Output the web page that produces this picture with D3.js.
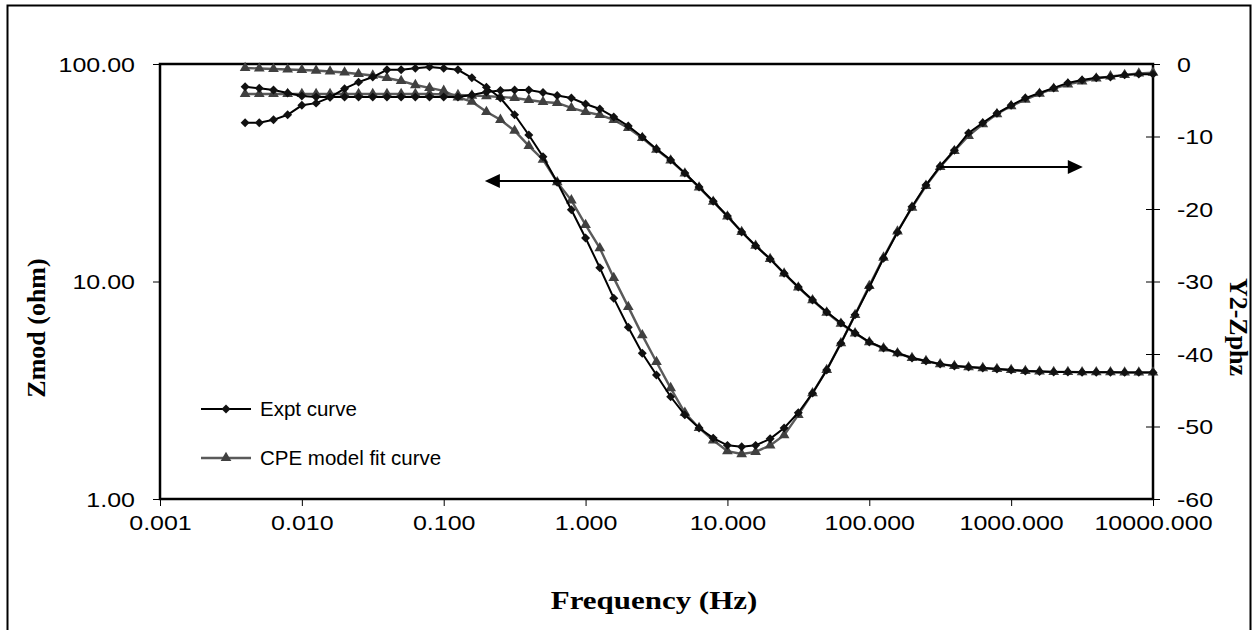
<!DOCTYPE html>
<html>
<head>
<meta charset="UTF-8">
<title>Zmod / Zphz vs Frequency</title>
<script src="https://d3js.org/d3.v7.min.js"></script>
<style>
  body { margin: 0; background: #fff; }
  .tick text { font-family: "Liberation Sans", Arial, sans-serif; font-size: 21px; fill: #000; }
  .title { font-family: "Liberation Serif", "Times New Roman", serif; font-weight: bold; font-size: 26px; fill: #000; }
  .legend text { font-family: "Liberation Sans", Arial, sans-serif; font-size: 20.5px; fill: #000; }
</style>
</head>
<body>
<script>
// frequency points (Hz), 10 per decade
const freq = [0.00398, 0.00501, 0.00631, 0.00794, 0.01, 0.0126, 0.0158, 0.02, 0.0251, 0.0316,
  0.0398, 0.0501, 0.0631, 0.0794, 0.1, 0.126, 0.158, 0.2, 0.251, 0.316,
  0.398, 0.501, 0.631, 0.794, 1, 1.26, 1.58, 2, 2.51, 3.16,
  3.98, 5.01, 6.31, 7.94, 10, 12.6, 15.8, 20, 25.1, 31.6,
  39.8, 50.1, 63.1, 79.4, 100, 126, 158, 200, 251, 316,
  398, 501, 631, 794, 1000, 1259, 1585, 1995, 2512, 3162,
  3981, 5012, 6310, 7943, 10000];

// |Z| (ohm)
const zmodExpt = [78.6, 77.3, 75.9, 73.5, 71.2, 70.5, 70.5, 70.5, 70.5, 70.5,
  70.5, 70.5, 70.5, 70.5, 70.5, 70.5, 72.0, 74.3, 75.5, 75.9,
  75.9, 74.0, 71.6, 69.8, 65.5, 62.1, 57.1, 51.9, 46.2, 40.7,
  36.2, 31.5, 27.2, 23.4, 20.0, 16.9, 14.6, 12.7, 10.9, 9.43,
  8.22, 7.24, 6.44, 5.80, 5.27, 4.94, 4.69, 4.45, 4.31, 4.17,
  4.09, 4.04, 4.00, 3.96, 3.92, 3.88, 3.86, 3.84, 3.84, 3.83,
  3.83, 3.83, 3.82, 3.82, 3.82];
const zmodFit = [72.8, 72.8, 72.8, 72.8, 72.8, 72.8, 72.8, 72.8, 72.8, 72.8,
  72.8, 72.8, 72.8, 72.8, 72.4, 72.0, 71.6, 71.2, 70.5, 69.8,
  68.3, 66.9, 66.2, 62.8, 60.2, 58.3, 55.3, 50.8, 45.7, 40.4,
  36.0, 31.4, 27.1, 23.3, 19.9, 16.9, 14.6, 12.7, 10.9, 9.4,
  8.2, 7.2, 6.4, 5.78, 5.26, 4.93, 4.68, 4.45, 4.31, 4.17,
  4.09, 4.04, 4.00, 3.96, 3.92, 3.88, 3.86, 3.84, 3.84, 3.83,
  3.83, 3.83, 3.82, 3.82, 3.82];

// phase (deg)
const phzExpt = [-8.1, -8.1, -7.7, -7.0, -5.7, -5.4, -4.6, -3.4, -2.5, -1.8,
  -0.8, -0.8, -0.6, -0.4, -0.6, -0.8, -1.9, -3.2, -4.7, -7.0,
  -9.8, -12.8, -16.3, -20.1, -24.0, -28.1, -32.3, -36.3, -39.9, -42.9,
  -45.9, -48.4, -50.2, -51.6, -52.6, -52.8, -52.6, -51.7, -50.2, -48.1,
  -45.4, -42.2, -38.5, -34.6, -30.8, -26.8, -23.2, -19.7, -16.7, -14.1,
  -11.9, -9.5, -8.1, -6.8, -5.7, -4.7, -4.0, -3.3, -2.6, -2.2,
  -1.9, -1.8, -1.5, -1.4, -1.4];
const phzFit = [-0.55, -0.62, -0.69, -0.76, -0.83, -0.9, -1.03, -1.17, -1.38, -1.59,
  -1.93, -2.34, -2.9, -3.3, -3.7, -4.6, -5.2, -6.6, -7.7, -9.2,
  -11.3, -13.2, -16.3, -18.8, -22.2, -25.4, -29.5, -33.5, -37.4, -41.1,
  -44.7, -48.1, -50.2, -51.9, -53.4, -53.8, -53.5, -52.6, -51.2, -48.4,
  -45.4, -42.2, -38.5, -34.6, -30.6, -26.7, -23.1, -19.8, -16.8, -14.2,
  -12.0, -9.9, -8.3, -6.9, -5.8, -4.9, -4.1, -3.4, -2.8, -2.4,
  -2.0, -1.7, -1.5, -1.3, -1.2];

const xTicks = [0.001, 0.01, 0.1, 1, 10, 100, 1000, 10000];
const yLeftTicks = [1, 10, 100];
const yRightTicks = [-60, -50, -40, -30, -20, -10, 0];
const seriesNames = ["Expt curve", "CPE model fit curve"];

// annotation arrows: [from freq, to freq, value on its axis]
const arrowLeft = [5.7, 0.195, 29];
const arrowRight = [315, 3200, -14.2];

const width = 1257, height = 630;
const m = { left: 160, right: 1153, top: 64, bottom: 499 };

const svg = d3.select("body").append("svg")
  .attr("width", width).attr("height", height);

svg.append("rect")
  .attr("x", 7.5).attr("y", 5.5).attr("width", 1243).attr("height", 640)
  .attr("fill", "#fff").attr("stroke", "#000").attr("stroke-width", 2);

const x = d3.scaleLog().domain([0.001, 10000]).range([m.left, m.right]);
const yL = d3.scaleLog().domain([1, 100]).range([m.bottom, m.top]);
const yR = d3.scaleLinear().domain([-60, 0]).range([m.bottom, m.top]);

// the labels in the original are drawn a bit wider than the font
function widen(sel, k) {
  sel.each(function () {
    const len = this.getComputedTextLength();
    d3.select(this).attr("textLength", len * k).attr("lengthAdjust", "spacingAndGlyphs");
  });
}

// axes
const gx = svg.append("g").attr("transform", `translate(0,${m.bottom})`)
  .call(d3.axisBottom(x).tickValues(xTicks).tickFormat(d3.format(".3f")).tickSizeOuter(0).tickSizeInner(7).tickPadding(9));
const gl = svg.append("g").attr("transform", `translate(${m.left},0)`)
  .call(d3.axisLeft(yL).tickValues(yLeftTicks).tickFormat(d3.format(".2f")).tickSizeOuter(0).tickSizeInner(7).tickPadding(18));
const gr = svg.append("g").attr("transform", `translate(${m.right},0)`)
  .call(d3.axisRight(yR).tickValues(yRightTicks).tickFormat(d => String(d)).tickSizeOuter(0).tickSizeInner(7).tickPadding(17));
gr.selectAll(".tick").append("line").attr("x1", -7).attr("x2", 0).attr("stroke", "#000");
[gx, gl, gr].forEach(g => {
  g.select(".domain").remove();
  g.selectAll(".tick line").attr("stroke", "#000").attr("stroke-width", 1);
  widen(g.selectAll(".tick text"), 1.19);
});
gl.selectAll(".tick text").attr("dy", "0.35em");
gr.selectAll(".tick text").attr("dy", "0.35em");

// plot frame
svg.append("rect")
  .attr("x", m.left).attr("y", m.top)
  .attr("width", m.right - m.left).attr("height", m.bottom - m.top)
  .attr("fill", "none").attr("stroke", "#000").attr("stroke-width", 2.5);

// series
const expt = { line: "#000", mark: "#111", shape: d3.symbolSquare, rot: 45, size: 40, w: 2 };
const fit = { line: "#5a5a5a", mark: "#404040", shape: d3.symbolTriangle, rot: 0, size: 50, w: 2.4 };

function drawSeries(vals, yScale, st) {
  const pts = freq.map((f, i) => [x(f), yScale(vals[i])]);
  svg.append("path")
    .attr("d", d3.line()(pts))
    .attr("fill", "none").attr("stroke", st.line).attr("stroke-width", st.w);
  svg.append("g").selectAll("path").data(pts).join("path")
    .attr("transform", d => `translate(${d[0]},${d[1]}) rotate(${st.rot})`)
    .attr("d", d3.symbol().type(st.shape).size(st.size))
    .attr("fill", st.mark);
}
drawSeries(zmodFit, yL, fit);
drawSeries(phzFit, yR, fit);
drawSeries(zmodExpt, yL, expt);
drawSeries(phzExpt, yR, expt);

// arrows
function arrow(a, yScale) {
  const x1 = x(a[0]), x2 = x(a[1]), yy = yScale(a[2]);
  const dir = Math.sign(x2 - x1);
  svg.append("line").attr("x1", x1).attr("x2", x2 - dir * 10).attr("y1", yy).attr("y2", yy)
    .attr("stroke", "#000").attr("stroke-width", 2);
  svg.append("path")
    .attr("d", `M${x2},${yy}L${x2 - dir * 15},${yy - 7}L${x2 - dir * 15},${yy + 7}Z`)
    .attr("fill", "#000");
}
arrow(arrowLeft, yL);
arrow(arrowRight, yR);

// titles
const xt = svg.append("text").attr("class", "title").attr("x", 654).attr("y", 609)
  .attr("text-anchor", "middle").text("Frequency (Hz)");
widen(xt, 1.19);
svg.append("text").attr("class", "title")
  .attr("transform", "translate(45,328) rotate(-90)")
  .attr("text-anchor", "middle").text("Zmod (ohm)");
svg.append("text").attr("class", "title")
  .attr("transform", "translate(1230,327) rotate(90)")
  .attr("text-anchor", "middle").text("Y2-Zphz");

// legend
const leg = svg.append("g").attr("class", "legend");
[expt, fit].forEach((st, i) => {
  const yy = 409 + i * 49;
  leg.append("line").attr("x1", 201).attr("x2", 251).attr("y1", yy).attr("y2", yy)
    .attr("stroke", st.line).attr("stroke-width", st.w);
  leg.append("path").attr("transform", `translate(226,${yy}) rotate(${st.rot})`)
    .attr("d", d3.symbol().type(st.shape).size(st.size)).attr("fill", st.mark);
  leg.append("text").attr("x", 260).attr("y", yy).attr("dy", "0.35em").text(seriesNames[i]);
});
</script>
</body>
</html>
